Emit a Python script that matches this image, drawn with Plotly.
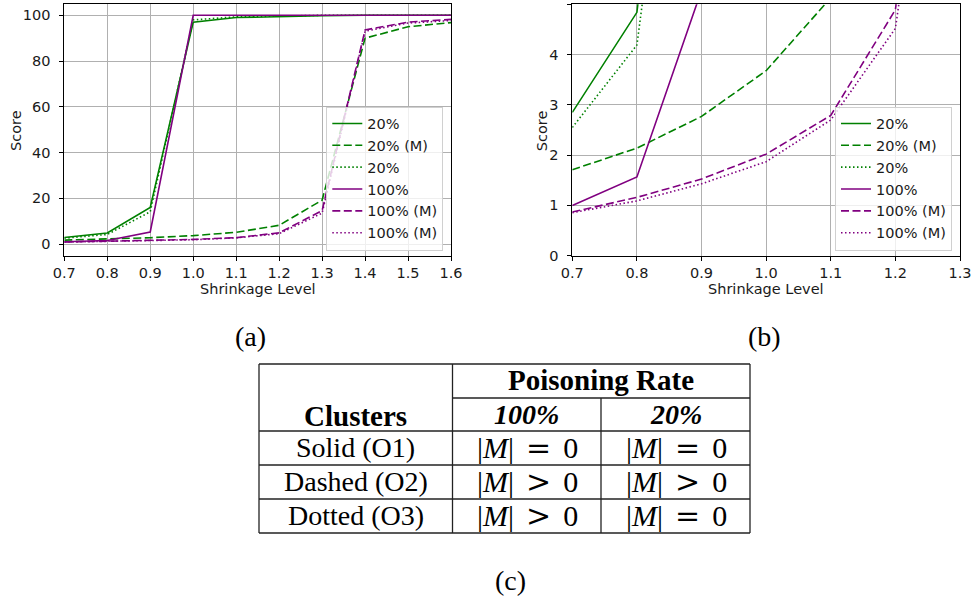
import plotly.graph_objects as go

# Shrinkage levels shared by every series
shrinkage = [0.7, 0.8, 0.9, 1.0, 1.1, 1.2, 1.3, 1.4, 1.5, 1.6]

# Scores per poisoning rate / cluster
score_20_solid = [2.85, 4.84, 16.0, 97.0, 99.0, 99.5, 99.8, 100.0, 100.0, 100.0]
score_20_dashed = [1.71, 2.14, 2.77, 3.68, 5.13, 8.2, 19.2, 90.0, 95.0, 96.8]
score_20_dotted = [2.55, 4.19, 14.1, 98.0, 99.3, 99.7, 100.0, 100.0, 100.0, 100.0]
score_100_solid = [1.0, 1.565, 5.28, 100.0, 100.0, 100.0, 100.0, 100.0, 100.0, 100.0]
score_100_dashed = [0.87, 1.16, 1.525, 2.02, 2.79, 4.89, 14.6, 93.6, 97.0, 98.2]
score_100_dotted = [0.855, 1.09, 1.43, 1.87, 2.70, 4.52, 13.5, 93.0, 96.6, 97.7]

series_names = ["20%", "20% (M)", "20%", "100%", "100% (M)", "100% (M)"]
series_values = [score_20_solid, score_20_dashed, score_20_dotted,
                 score_100_solid, score_100_dashed, score_100_dotted]
series_colors = ["#008000", "#008000", "#008000", "#800080", "#800080", "#800080"]
series_dashes = ["solid", "8px,3.5px", "1.5px,2.5px", "solid", "8px,3.5px", "1.5px,2.5px"]

x_title = "Shrinkage Level"
y_title = "Score"

# Table content
table_title_left = "Clusters"
table_title_right = "Poisoning Rate"
rate_labels = ["100%", "20%"]
cluster_names = ["Solid (O1)", "Dashed (O2)", "Dotted (O3)"]
cell_relations = [["=", "="], [">", ">"], [">", "="]]

captions = ["(a)", "(b)", "(c)"]

W, H = 978, 602


def px(x):
    return x / W


def py(y):
    return 1 - y / H


fig = go.Figure()

for legend_id, xa, ya in [("legend", "x", "y"), ("legend2", "x2", "y2")]:
    for name, vals, col, dash in zip(series_names, series_values, series_colors, series_dashes):
        fig.add_trace(go.Scatter(
            x=shrinkage, y=vals, mode="lines", name=name,
            line=dict(color=col, width=1.6, dash=dash),
            xaxis=xa, yaxis=ya, legend=legend_id,
        ))

plot_font = dict(family="DejaVu Sans", size=14.5, color="#1a1a1a")
axis_common = dict(
    showline=True, mirror=True, linecolor="black", linewidth=1,
    ticks="outside", ticklen=4, tickcolor="black", tickwidth=1,
    showgrid=True, gridcolor="#b0b0b0", gridwidth=1, zeroline=False,
    tickfont=plot_font, automargin=False,
)

legend_common = dict(
    bgcolor="rgba(255,255,255,0.8)", bordercolor="#d0d0d0", borderwidth=1,
    font=plot_font, xanchor="right", yanchor="bottom", traceorder="normal",
    itemwidth=30,
)

plot_top, plot_bottom = 4.3, 255.7
panel_a = (64.3, 451)
panel_b = (572.3, 960)

fig.update_layout(
    width=W, height=H, margin=dict(l=0, r=0, t=0, b=0, autoexpand=False),
    paper_bgcolor="white", plot_bgcolor="white",
    font=plot_font,
    xaxis=dict(axis_common, domain=[px(panel_a[0]), px(panel_a[1])], range=[0.7, 1.6],
               tickvals=shrinkage, tickformat=".1f", ticklabelstandoff=0, anchor="y"),
    yaxis=dict(axis_common, domain=[py(plot_bottom), py(plot_top)], range=[-5.1, 104.8],
               tickvals=[0, 20, 40, 60, 80, 100], ticklabelstandoff=6, anchor="x"),
    xaxis2=dict(axis_common, domain=[px(panel_b[0]), px(panel_b[1])], range=[0.7, 1.3],
                tickvals=[0.7, 0.8, 0.9, 1.0, 1.1, 1.2, 1.3], tickformat=".1f",
                ticklabelstandoff=0, anchor="y2"),
    yaxis2=dict(axis_common, domain=[py(plot_bottom), py(plot_top)], range=[0, 5],
                tickvals=[0, 1, 2, 3, 4, 5], ticklabelstandoff=6, anchor="x2"),
    legend=dict(legend_common, x=px(443.3), y=py(250.5)),
    legend2=dict(legend_common, x=px(952), y=py(250.5)),
)

# Axis titles
for (x0, x1), score_x in [(panel_a, 16), (panel_b, 542.3)]:
    fig.add_annotation(text=x_title, x=px((x0 + x1) / 2), y=py(289), xref="paper", yref="paper",
                       showarrow=False, xanchor="center", yanchor="middle", font=plot_font)
    fig.add_annotation(text=y_title, x=px(score_x), y=py(131), xref="paper", yref="paper",
                       showarrow=False, xanchor="center", yanchor="middle", textangle=-90,
                       font=plot_font)

# Table grid lines
line_style = dict(color="#222222", width=1.3)
col_x = [259, 452.5, 601, 750]
row_y = [364, 398, 431, 465, 499, 533]
shapes = []
# horizontal rules
for y in [row_y[0]] + row_y[2:]:
    shapes.append(dict(type="line", xref="paper", yref="paper",
                       x0=px(col_x[0]), x1=px(col_x[3]), y0=py(y), y1=py(y), line=line_style))
shapes.append(dict(type="line", xref="paper", yref="paper",
                   x0=px(col_x[1]), x1=px(col_x[3]), y0=py(row_y[1]), y1=py(row_y[1]), line=line_style))
# vertical rules
for x in [col_x[0], col_x[1], col_x[3]]:
    shapes.append(dict(type="line", xref="paper", yref="paper",
                       x0=px(x), x1=px(x), y0=py(row_y[0]), y1=py(row_y[-1]), line=line_style))
shapes.append(dict(type="line", xref="paper", yref="paper",
                   x0=px(col_x[2]), x1=px(col_x[2]), y0=py(row_y[1]), y1=py(row_y[-1]), line=line_style))
fig.update_layout(shapes=shapes)

serif = "Liberation Serif"


def add_text(text, x, y, size=28):
    fig.add_annotation(text=text, x=px(x), y=py(y), xref="paper", yref="paper",
                       showarrow=False, xanchor="center", yanchor="middle",
                       font=dict(family=serif, size=size, color="black"))


add_text("<b>" + table_title_left + "</b>", (col_x[0] + col_x[1]) / 2, 415.5, 29)
add_text("<b>" + table_title_right + "</b>", (col_x[1] + col_x[3]) / 2, 380, 29)
for i, lab in enumerate(rate_labels):
    add_text("<b><i>" + lab + "</i></b>", (col_x[1 + i] + col_x[2 + i]) / 2, 414.5)

for r, name in enumerate(cluster_names):
    yc = (row_y[2 + r] + row_y[3 + r]) / 2 - 1
    add_text(name, (col_x[0] + col_x[1]) / 2, yc)
    for c, rel in enumerate(cell_relations[r]):
        rel_txt = "=" if rel == "=" else "&gt;"
        math = ("|<i>M</i>|\u2009\u2009"
                "<span style='font-family:DejaVu Serif'>" + rel_txt + "</span>"
                "\u2009\u20090")
        add_text(math, (col_x[1 + c] + col_x[2 + c]) / 2 + 1, yc, 30)

# Panel captions
add_text(captions[0], 251, 336, 28)
add_text(captions[1], 764, 336, 28)
add_text(captions[2], 510, 580, 28)

fig.write_html("out.html")
